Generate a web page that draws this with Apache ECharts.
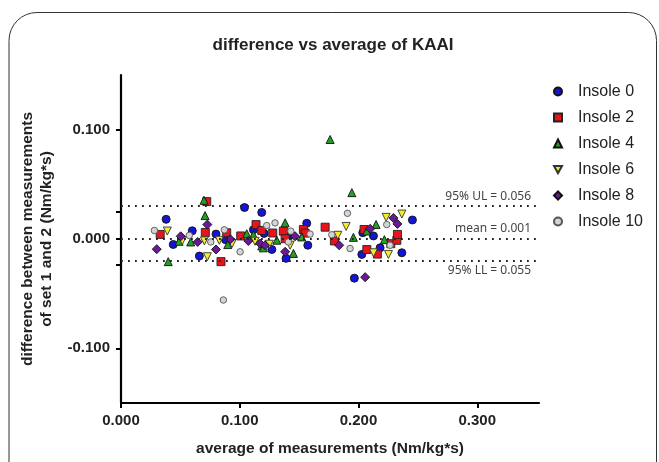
<!DOCTYPE html>
<html>
<head>
<meta charset="utf-8">
<script src="https://cdn.jsdelivr.net/npm/echarts@6/dist/echarts.min.js"></script>
<style>html,body{margin:0;padding:0;background:#fff;}#c{width:659px;height:462px;}</style>
</head>
<body>
<div id="c"></div>
<script>
var seriesNames = ['Insole 0', 'Insole 2', 'Insole 4', 'Insole 6', 'Insole 8', 'Insole 10'];
var insole0 = [[0.038,0.018],[0.044,-0.005],[0.060,0.0075],[0.066,-0.0156],[0.080,0.0045],[0.088,-0.0006],[0.104,0.0288],[0.1115,0.0084],[0.1185,0.0243],[0.1205,0.0051],[0.127,-0.0096],[0.139,-0.0177],[0.1418,0.0028],[0.1564,0.0144],[0.1573,-0.0057],[0.1965,-0.0358],[0.2028,-0.0141],[0.2036,0.0058],[0.2126,0.0028],[0.2182,-0.0081],[0.2365,-0.0126],[0.2454,0.0174]];
var insole2 = [[0.033,0.0042],[0.0722,0.0342],[0.071,0.006],[0.0842,-0.0207],[0.089,0.0057],[0.1008,0.0028],[0.1137,0.0132],[0.1185,0.0078],[0.1278,0.0055],[0.1367,0.0072],[0.1382,0.0003],[0.1536,0.0087],[0.155,0.0054],[0.1719,0.0108],[0.1797,-0.0018],[0.2047,0.0087],[0.207,-0.0096],[0.2159,-0.0138],[0.2272,-0.0043],[0.2323,-0.0012],[0.2328,0.0042]];
var insole4 = [[0.0398,-0.0207],[0.0489,-0.0021],[0.0587,-0.0027],[0.0699,0.0354],[0.0708,0.0214],[0.0899,-0.0051],[0.1059,0.0048],[0.1115,0.0039],[0.1185,-0.0063],[0.1199,-0.0081],[0.1312,-0.0011],[0.1382,0.0148],[0.1452,-0.0132],[0.1522,0.0019],[0.1761,0.091],[0.1944,0.0424],[0.1957,0.0015],[0.207,0.0073],[0.2148,0.0133],[0.2218,-0.0006]];
var insole6 = [[0.039,0.0073],[0.0516,-0.0015],[0.0702,-0.0017],[0.0727,-0.0162],[0.0828,-0.0012],[0.0935,-0.0042],[0.1129,-0.0021],[0.1249,-0.0048],[0.1424,-0.0057],[0.1826,0.0034],[0.1896,0.0115],[0.2126,-0.0126],[0.2233,0.0198],[0.2252,-0.0141],[0.2365,0.0228]];
var insole8 = [[0.0301,-0.0093],[0.0503,0.0025],[0.0646,-0.0027],[0.0727,0.0132],[0.080,-0.0096],[0.0921,-0.0003],[0.1072,-0.0018],[0.1171,-0.0042],[0.1213,-0.0057],[0.1382,-0.0117],[0.1466,0.0025],[0.1837,-0.0057],[0.2056,-0.0349],[0.2098,0.0093],[0.2294,0.0192],[0.2328,0.0138]];
var insole10 = [[0.0281,0.0078],[0.0575,0.0033],[0.0756,-0.0027],[0.0862,-0.0558],[0.087,0.0084],[0.1003,-0.0117],[0.1227,0.0123],[0.1297,0.0147],[0.1409,-0.0027],[0.143,0.0072],[0.1592,0.0045],[0.1775,0.0039],[0.1907,0.0235],[0.1929,-0.0087],[0.2238,0.0132],[0.2266,-0.0057]];
var limitValues = [0.025, 0.001, -0.024];
var limitLabels = ['95% UL = 0.056', 'mean = 0.001', '95% LL = 0.055'];
var xTicks = [0, 0.1, 0.2, 0.3];
var yLabelTicks = [-0.1, 0, 0.1];

var FONT = 'Liberation Sans';
var chart = echarts.init(document.getElementById('c'));
var seriesData = [insole0, insole2, insole4, insole6, insole8, insole10];
var styles = [
  {symbol: 'circle', size: 8, color: '#1414d6', border: '#111'},
  {symbol: 'rect', size: 8, color: '#e8141c', border: '#222'},
  {symbol: 'triangle', size: 8, color: '#22a022', border: '#111'},
  {symbol: 'path://M0,0 L10,0 L5,9 Z', size: 8, color: '#f2ee28', border: '#333'},
  {symbol: 'diamond', size: 9, color: '#6a1a96', border: '#111'},
  {symbol: 'circle', size: 6.5, color: '#d4d4d4', border: '#555'}
];
var series = [{
  type: 'scatter', name: 'limits', data: [], silent: true,
  markLine: {
    silent: true, symbol: 'none', animation: false,
    lineStyle: {type: [1.8, 5.2], color: '#222', width: 1.8},
    data: limitValues.map(function (v, i) {
      return {yAxis: v, label: {show: true, formatter: limitLabels[i],
        position: i === 2 ? 'insideEndBottom' : 'insideEndTop',
        color: '#444', fontSize: 12, fontFamily: 'Noto Sans', distance: [8, 4]}};
    })
  }
}];
seriesData.forEach(function (d, i) {
  var s = styles[i];
  series.push({
    type: 'scatter', name: seriesNames[i], data: d,
    symbol: s.symbol, symbolSize: s.size, animation: false,
    itemStyle: {color: s.color, borderColor: s.border, borderWidth: 0.9, opacity: 1}
  });
});

var tickLabelStyle = {fontFamily: FONT, fontWeight: 'bold', fontSize: 15, color: '#222'};
var nameStyle = {fontFamily: FONT, fontWeight: 'bold', fontSize: 15.5, color: '#222'};
chart.setOption({
  backgroundColor: '#fff',
  animation: false,
  graphic: [{
    type: 'rect', silent: true,
    shape: {x: 9, y: 12.5, width: 647.5, height: 520, r: 28},
    style: {fill: 'none', stroke: '#333', lineWidth: 1}
  }],
  title: {
    text: 'difference vs average of KAAI', left: 328, textAlign: 'center', top: 32,
    textStyle: {fontFamily: FONT, fontWeight: 'bold', fontSize: 17, color: '#222'}
  },
  legend: {
    data: seriesNames, orient: 'vertical', left: 548, top: 77,
    itemWidth: 8, itemHeight: 8, itemGap: 7,
    textStyle: {fontFamily: FONT, fontSize: 16, color: '#222', lineHeight: 19, padding: [0, 0, 0, 11]}
  },
  grid: {left: 121, right: 120, top: 75, bottom: 53.5, containLabel: false},
  xAxis: {
    type: 'value', min: 0, max: 0.352,
    name: 'average of measurements (Nm/kg*s)', nameLocation: 'middle', nameGap: 38,
    nameTextStyle: nameStyle,
    axisLine: {show: true, onZero: false, lineStyle: {color: '#000', width: 2.2}},
    axisTick: {show: true, length: 5, lineStyle: {color: '#000', width: 2}, customValues: xTicks},
    axisLabel: Object.assign({customValues: xTicks, margin: 10, formatter: function (v) { return v.toFixed(3); }}, tickLabelStyle),
    splitLine: {show: false}
  },
  yAxis: {
    type: 'value', min: -0.15, max: 0.15,
    name: 'difference between measurements\nof set 1 and 2 (Nm/kg*s)', nameLocation: 'middle', nameGap: 62,
    nameTextStyle: Object.assign({lineHeight: 19}, nameStyle),
    axisLine: {show: true, onZero: false, lineStyle: {color: '#000', width: 2.2}},
    axisTick: {show: true, length: 5, lineStyle: {color: '#000', width: 2}, customValues: [-0.1, limitValues[2], 0, limitValues[0], 0.1]},
    axisLabel: Object.assign({customValues: yLabelTicks, margin: 11, formatter: function (v) { return v.toFixed(3); }}, tickLabelStyle),
    splitLine: {show: false}
  },
  series: series
});
</script>
</body>
</html>
